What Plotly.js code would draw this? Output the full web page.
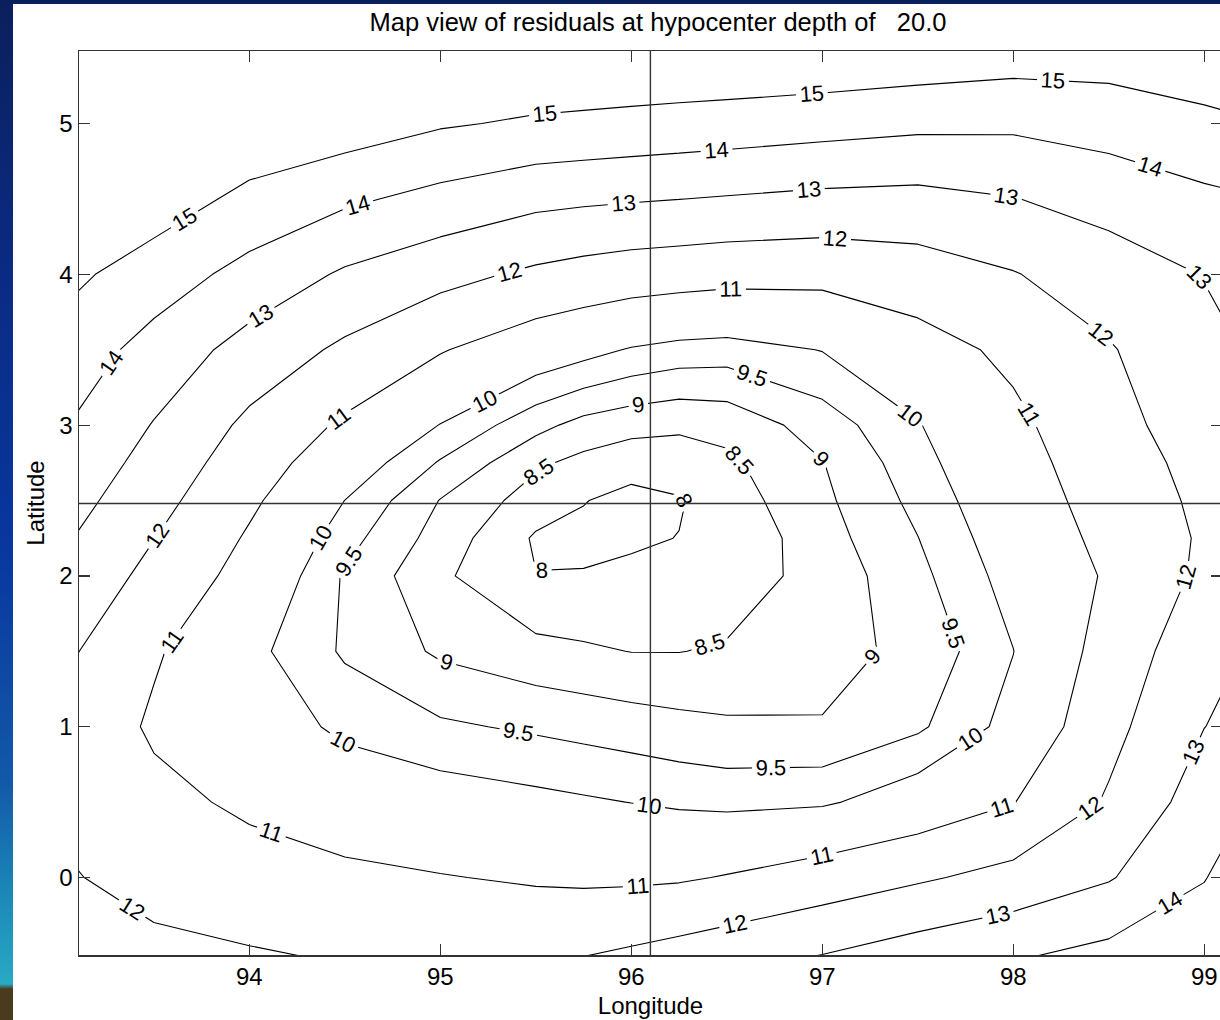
<!DOCTYPE html>
<html>
<head>
<meta charset="utf-8">
<script src="https://cdn.plot.ly/plotly-3.0.1.min.js"></script>
<style>
html, body { margin:0; padding:0; width:1220px; height:1020px; overflow:hidden; }
body {
  background: linear-gradient(to bottom, #0b1f5c 0px, #0a2a80 250px, #0837a0 550px, #1258a8 780px, #1c8ab8 900px, #28aac4 984px, #4a3a1e 989px, #4a3a1e 1020px);
}
#plot { position:absolute; left:13px; top:4px; width:1217px; height:1016px; }
</style>
</head>
<body>
<div id="plot"></div>
<script>
// Grid of longitudes / latitudes at which residuals were read
const lonGrid = [93, 93.5, 94, 94.5, 95, 95.5, 95.75, 96, 96.25, 96.5, 97, 97.5, 98, 98.5, 99, 99.5];
const latGrid = [-0.52, 0, 0.5, 1, 1.5, 2, 2.25, 2.5, 2.75, 3, 3.5, 4, 4.5, 5, 5.5];

// Residual values, one array per latitude row (south to north)
const resLatM05 = [12.5, 12.2, 12.09, 11.92, 11.64, 11.78, 11.99, 12.16, 12.37, 12.59, 13.03, 13.5, 13.9, 14.3, 14.45, 14.95];
const resLat00  = [12.1, 11.73, 11.4, 11.19, 11.04, 10.9, 10.84, 10.85, 10.9, 11.05, 11.44, 11.87, 12.31, 12.92, 13.97, 14.9];
const resLat05  = [11.85, 11.26, 10.83, 10.49, 10.3, 10.15, 10.07, 9.99, 9.9, 9.84, 9.91, 10.36, 10.97, 12.11, 13.48, 14.6];
const resLat10  = [11.85, 10.86, 10.42, 9.86, 9.58, 9.42, 9.33, 9.24, 9.15, 9.08, 9.03, 9.41, 10.2, 11.71, 12.99, 13.6];
const resLat15  = [12.25, 11.11, 10.17, 9.43, 8.92, 8.65, 8.57, 8.49, 8.49, 8.55, 8.84, 9.12, 9.99, 11.38, 12.66, 13.5];
const resLat20  = [12.87, 11.71, 10.65, 9.44, 8.59, 8.01, 8.03, 8.1, 8.17, 8.24, 8.68, 9.36, 10.23, 11.1, 12.2, 13.3];
const resLat225 = [13.18, 12.02, 10.89, 9.69, 8.79, 7.94, 7.88, 7.93, 8.01, 8.1, 8.79, 9.49, 10.37, 11.24, 12.12, 13.3];
const resLat25  = [13.5, 12.33, 11.17, 9.995, 8.98, 8.26, 8.02, 7.85, 7.96, 8.25, 8.89, 9.64, 10.51, 11.38, 12.2, 13.3];
const resLat275 = [13.82, 12.64, 11.47, 10.42, 9.45, 8.59, 8.36, 8.2, 8.27, 8.4, 8.98, 9.8, 10.65, 11.51, 12.32, 13.3];
const resLat30  = [14.12, 12.95, 11.79, 10.85, 9.98, 9.16, 8.83, 8.67, 8.58, 8.66, 9.23, 9.96, 10.8, 11.65, 12.53, 13.3];
const resLat35  = [14.66, 13.64, 12.62, 11.82, 11.06, 10.43, 10.2, 9.95, 9.8, 9.75, 10.02, 10.62, 11.2, 11.92, 12.77, 13.37];
const resLat40  = [15.31, 14.51, 13.68, 12.87, 12.31, 11.82, 11.63, 11.48, 11.39, 11.3, 11.26, 11.52, 11.95, 12.52, 13.03, 13.5];
const resLat45  = [15.77, 15.53, 14.74, 14.17, 13.7, 13.26, 13.16, 13.08, 13.01, 12.93, 12.78, 12.72, 12.97, 13.35, 13.8, 14.1];
const resLat50  = [15.95, 15.95, 15.78, 15.53, 15.1, 14.87, 14.8, 14.72, 14.64, 14.56, 14.39, 14.22, 14.18, 14.43, 14.77, 15.1];
const resLat55  = [15.95, 15.95, 15.95, 15.95, 15.95, 15.95, 15.95, 15.95, 15.95, 15.95, 15.9, 15.75, 15.55, 15.5, 15.7, 15.9];

// Contour levels: fine steps near the minimum, unit steps outside
const fineLevels = [8, 10, 0.5];     // start, end, step
const coarseLevels = [11, 15, 1];    // start, end, step

// Hypocenter cross-hair
const hypoLon = [96.1];
const hypoLat = [2.48];

// Axis ticks
const lonTicks = [94, 95, 96, 97, 98, 99];
const latTicks = [0, 1, 2, 3, 4, 5];

const residuals = [resLatM05, resLat00, resLat05, resLat10, resLat15, resLat20, resLat225,
                   resLat25, resLat275, resLat30, resLat35, resLat40, resLat45, resLat50, resLat55];

const FONT = 'Liberation Sans, Arial, Helvetica, sans-serif';

// Plotly spaces contour labels according to the number of levels in a trace;
// extra empty levels (outside the data range) make it place labels more densely.
const LABEL_PAD_LEVELS = 78;

function contourTrace(lv, padBelow) {
  const pad = lv[2] * LABEL_PAD_LEVELS;
  return {
    type: 'contour',
    x: lonGrid, y: latGrid, z: residuals,
    autocontour: false,
    contours: {
      start: padBelow ? lv[0] - pad : lv[0],
      end: padBelow ? lv[1] : lv[1] + pad,
      size: lv[2],
      coloring: 'none',
      showlabels: true,
      labelfont: { family: FONT, size: 22, color: '#000' }
    },
    line: { color: '#000', width: 1.1, smoothing: 0 },
    showscale: false,
    hoverinfo: 'skip'
  };
}

const data = [contourTrace(fineLevels, true), contourTrace(coarseLevels, false)];

const axisCommon = {
  showgrid: false, zeroline: false,
  showline: true, linecolor: '#333', linewidth: 1.5,
  mirror: 'ticks', ticks: 'inside', ticklen: 11, tickwidth: 1.2, tickcolor: '#333',
  tickfont: { family: FONT, size: 24, color: '#000' }
};

const layout = {
  width: 1217, height: 1016,
  margin: { l: 66, r: 8, t: 47, b: 65 },
  paper_bgcolor: '#ffffff', plot_bgcolor: '#ffffff',
  showlegend: false,
  title: {
    text: 'Map view of residuals at hypocenter depth of\u00a0\u00a0\u00a0' + '20.0',
    font: { family: FONT, size: 25.5, color: '#000' },
    x: 0.5066, xref: 'paper', xanchor: 'center',
    y: 0.982, yref: 'container', yanchor: 'middle'
  },
  xaxis: Object.assign({}, axisCommon, {
    range: [93.108, 99.093], tickvals: lonTicks,
    title: { text: 'Longitude', font: { family: FONT, size: 24, color: '#000' }, standoff: 8 }
  }),
  yaxis: Object.assign({}, axisCommon, {
    range: [-0.514, 5.481], tickvals: latTicks,
    title: { text: 'Latitude', font: { family: FONT, size: 24, color: '#000' }, standoff: 8 }
  }),
  shapes: [
    { type: 'line', xref: 'x', yref: 'paper', x0: hypoLon[0], x1: hypoLon[0], y0: 0, y1: 1,
      line: { color: '#333', width: 1.4 } },
    { type: 'line', xref: 'paper', yref: 'y', x0: 0, x1: 1, y0: hypoLat[0], y1: hypoLat[0],
      line: { color: '#333', width: 1.4 } }
  ]
};

Plotly.newPlot('plot', data, layout, { displayModeBar: false, staticPlot: true });
</script>
</body>
</html>
